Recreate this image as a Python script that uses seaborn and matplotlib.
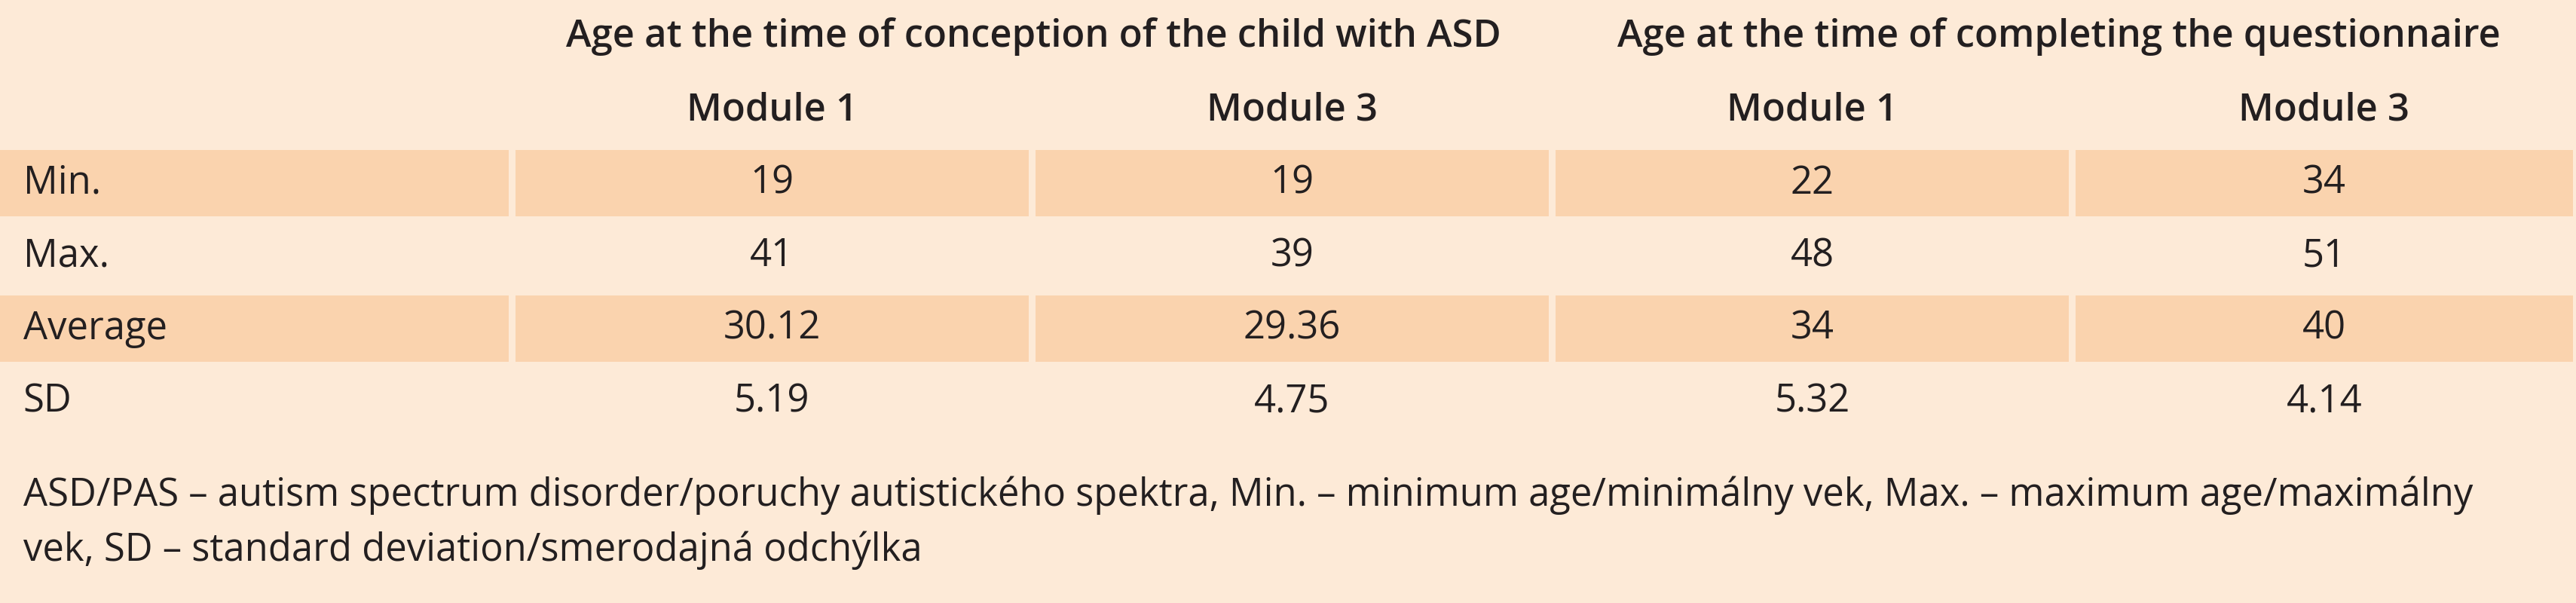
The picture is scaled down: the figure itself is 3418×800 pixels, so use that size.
import matplotlib
matplotlib.use("Agg")
import matplotlib.pyplot as plt
import seaborn as sns

sns.set_theme(style="white")
plt.rcParams['font.family'] = ['Open Sans', 'DejaVu Sans']

group_headers = ["Age at the time of conception of the child with ASD",
                 "Age at the time of completing the questionnaire"]
modules = ["Module 1", "Module 3", "Module 1", "Module 3"]
row_labels = ["Min.", "Max.", "Average", "SD"]
col1 = ["19", "41", "30.12", "5.19"]
col2 = ["19", "39", "29.36", "4.75"]
col3 = ["22", "48", "34", "5.32"]
col4 = ["34", "51", "40", "4.14"]
footnote = ["ASD/PAS \u2013 autism spectrum disorder/poruchy autistického spektra, Min. \u2013 minimum age/minimálny vek, Max. \u2013 maximum age/maximálny",
            "vek, SD \u2013 standard deviation/smerodajná odchýlka"]

BG = "#FDEAD7"
STRIPE = "#FAD3AE"
W, H = 1560, 365
FS = 36.5
fig = plt.figure(figsize=(34.18, 8), dpi=100, facecolor=BG)
ax = fig.add_axes([0, 0, 1, 1])
ax.set_facecolor(BG)
ax.set_xlim(0, W)
ax.set_ylim(H, 0)
ax.axis("off")

col_edges = [0, 310, 625, 940, 1255, 1560]
centers = [(col_edges[i] + col_edges[i + 1]) / 2 for i in range(1, 5)]
row_y = [111, 155, 199, 243]
rh = 44
cols = [col1, col2, col3, col4]
for r, y in enumerate(row_y):
    if r % 2 == 0:
        lefts = [col_edges[i] + (2 if i > 0 else 0) for i in range(5)]
        widths = [col_edges[i + 1] - lefts[i] - 2 for i in range(5)]
        ax.barh([y] * 5, widths, left=lefts, height=rh - 4, color=STRIPE, linewidth=0)
    ax.text(14, y, row_labels[r], ha="left", va="center", fontsize=FS, color="#231f20")
    for c in range(4):
        ax.text(centers[c], y, cols[c][r], ha="center", va="center", fontsize=FS, color="#231f20")

ax.text(626, 22, group_headers[0], ha="center", va="center", fontsize=FS, fontweight="semibold", color="#231f20")
ax.text(1247, 22, group_headers[1], ha="center", va="center", fontsize=FS, fontweight="semibold", color="#231f20")
for c in range(4):
    ax.text(centers[c], 67, modules[c], ha="center", va="center", fontsize=FS, fontweight="semibold", color="#231f20")

ax.text(14, 300, footnote[0], ha="left", va="center", fontsize=FS, color="#231f20")
ax.text(14, 333, footnote[1], ha="left", va="center", fontsize=FS, color="#231f20")

fig.savefig("out.png", dpi=100, facecolor=BG)
